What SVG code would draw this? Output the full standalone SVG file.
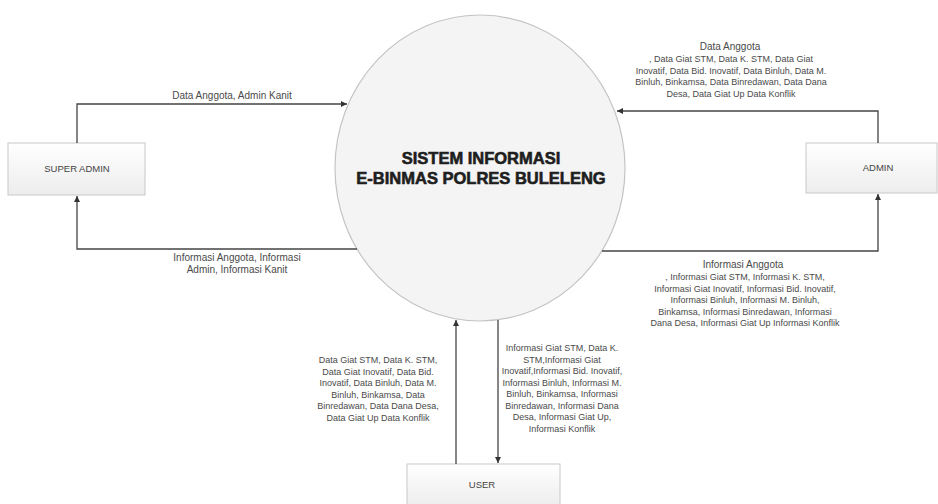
<svg xmlns="http://www.w3.org/2000/svg" width="938" height="504" viewBox="0 0 938 504">
<defs>
<linearGradient id="boxg" x1="0" y1="0" x2="0" y2="1">
<stop offset="0" stop-color="#ffffff"/>
<stop offset="1" stop-color="#ededed"/>
</linearGradient>
<marker id="arr" markerWidth="8" markerHeight="8" refX="6" refY="3" orient="auto" markerUnits="userSpaceOnUse">
<path d="M0,0 L6,3 L0,6 Z" fill="#333"/>
</marker>
<style>
.box{fill:url(#boxg);stroke:#c8c8c8;stroke-width:1}
.bt{font-family:"Liberation Sans",Arial,sans-serif;font-size:9.5px;fill:#444;text-anchor:middle}
.lbl{font-family:"Liberation Sans",Arial,sans-serif;font-size:9px;fill:#4a4a4a;text-anchor:middle}
.lbl10{font-family:"Liberation Sans",Arial,sans-serif;font-size:10px;fill:#4a4a4a;text-anchor:middle}
.con{fill:none;stroke:#444;stroke-width:1.3;marker-end:url(#arr)}
.title{font-family:"Liberation Sans",Arial,sans-serif;font-size:16.5px;font-weight:bold;fill:#1e1e1e;text-anchor:middle;stroke:#1e1e1e;stroke-width:0.6}
</style>
</defs>
<rect width="938" height="504" fill="#ffffff"/>

<g id="system">
<ellipse cx="480" cy="168" rx="145" ry="153" fill="#f4f4f4" stroke="#c4c4c4" stroke-width="1.2"/>
<text class="title" x="481" y="164">SISTEM INFORMASI</text>
<text class="title" x="481" y="184">E-BINMAS POLRES BULELENG</text>
</g>

<g id="super-admin">
<rect class="box" x="8" y="143" width="137" height="52"/>
<text class="bt" x="77" y="172">SUPER ADMIN</text>
</g>

<g id="admin">
<rect class="box" x="806" y="143" width="131" height="50"/>
<text class="bt" x="878" y="171">ADMIN</text>
</g>

<g id="user">
<rect class="box" x="407" y="464" width="153" height="42"/>
<text class="bt" x="482" y="488">USER</text>
</g>

<g id="connectors">
<path class="con" d="M77,143 V104 H347"/>
<path class="con" d="M357,249 H77 V196"/>
<path class="con" d="M878,143 V111 H617"/>
<path class="con" d="M602,251 H878 V194"/>
<path class="con" d="M456,464 V320"/>
<path class="con" d="M498,320 V463"/>
</g>

<g id="labels">
<text class="lbl10" x="232" y="99">Data Anggota, Admin Kanit</text>

<text class="lbl10" x="237" y="261">Informasi Anggota, Informasi</text>
<text class="lbl10" x="237" y="273">Admin, Informasi Kanit</text>

<text class="lbl10" x="730" y="50">Data Anggota</text>
<text class="lbl" x="731" y="62">, Data Giat STM, Data K. STM, Data Giat</text>
<text class="lbl" x="731" y="73.5">Inovatif, Data Bid. Inovatif, Data Binluh, Data M.</text>
<text class="lbl" x="731" y="85">Binluh, Binkamsa, Data Binredawan, Data Dana</text>
<text class="lbl" x="731" y="96.5">Desa, Data Giat Up Data Konflik</text>

<text class="lbl10" x="743" y="268">Informasi Anggota</text>
<text class="lbl" x="745" y="280">, Informasi Giat STM, Informasi K. STM,</text>
<text class="lbl" x="745" y="291.5">Informasi Giat Inovatif, Informasi Bid. Inovatif,</text>
<text class="lbl" x="745" y="303">Informasi Binluh, Informasi M. Binluh,</text>
<text class="lbl" x="745" y="314.5">Binkamsa, Informasi Binredawan, Informasi</text>
<text class="lbl" x="745" y="326">Dana Desa, Informasi Giat Up Informasi Konflik</text>

<text class="lbl" x="378" y="363">Data Giat STM, Data K. STM,</text>
<text class="lbl" x="378" y="374.5">Data Giat Inovatif, Data Bid.</text>
<text class="lbl" x="378" y="386">Inovatif, Data Binluh, Data M.</text>
<text class="lbl" x="378" y="397.5">Binluh, Binkamsa, Data</text>
<text class="lbl" x="378" y="409">Binredawan, Data Dana Desa,</text>
<text class="lbl" x="378" y="420.5">Data Giat Up Data Konflik</text>

<text class="lbl" x="562" y="351">Informasi Giat STM, Data K.</text>
<text class="lbl" x="562" y="362.5">STM,Informasi Giat</text>
<text class="lbl" x="562" y="374">Inovatif,Informasi Bid. Inovatif,</text>
<text class="lbl" x="562" y="385.5">Informasi Binluh, Informasi M.</text>
<text class="lbl" x="562" y="397">Binluh, Binkamsa, Informasi</text>
<text class="lbl" x="562" y="408.5">Binredawan, Informasi Dana</text>
<text class="lbl" x="562" y="420">Desa, Informasi Giat Up,</text>
<text class="lbl" x="562" y="431.5">Informasi Konflik</text>
</g>
</svg>
